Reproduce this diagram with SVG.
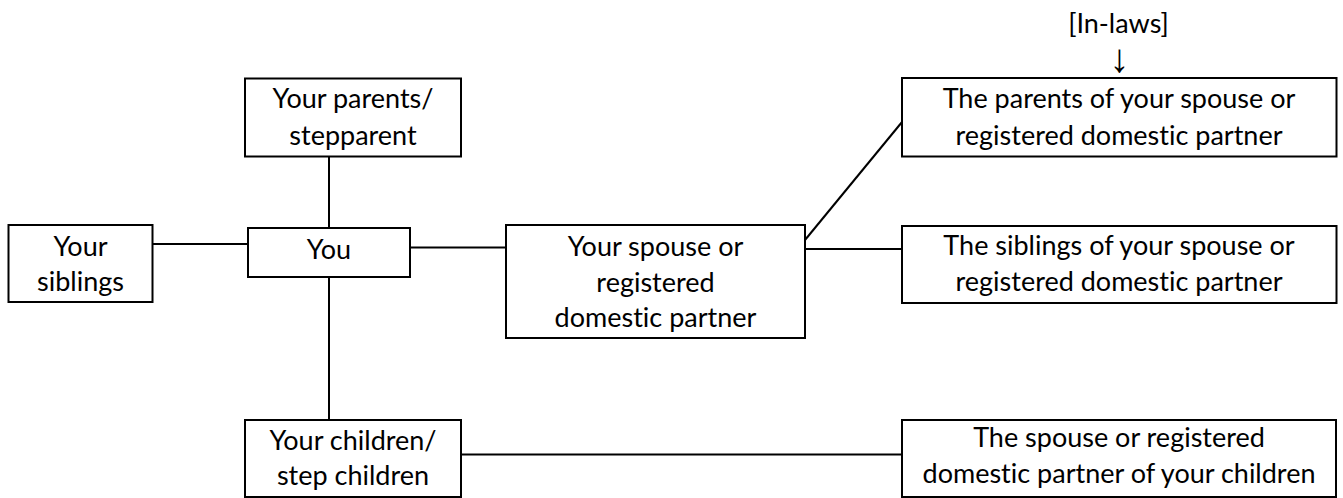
<svg xmlns="http://www.w3.org/2000/svg" width="1343" height="498" viewBox="0 0 1343 498">
<style>
.box{fill:#fff;stroke:#000;stroke-width:2}
.lbl{font-family:Lato,"Open Sans","Liberation Sans",sans-serif;font-size:27px;fill:#000;text-anchor:middle;font-variant-ligatures:none}
.arrow{font-family:"Liberation Sans","Noto Sans",sans-serif;font-size:40px;fill:#000;text-anchor:middle}
.con{stroke:#000;stroke-width:2;fill:none}
</style>
<rect width="1343" height="498" fill="#fff"/>
<g id="connectors">
<line class="con" x1="329" y1="157" x2="329" y2="228"/>
<line class="con" x1="152" y1="244" x2="248" y2="244"/>
<line class="con" x1="410" y1="247.5" x2="506" y2="247.5"/>
<line class="con" x1="329" y1="277" x2="329" y2="420"/>
<line class="con" x1="805" y1="240" x2="902" y2="122"/>
<line class="con" x1="805" y1="249" x2="902" y2="249"/>
<line class="con" x1="461" y1="454.5" x2="902" y2="454.5"/>
</g>
<g id="note-inlaws">
<text class="lbl" x="1118.5" y="33">[In-laws]</text>
<text class="arrow" x="1119.5" y="72">↓</text>
</g>
<g id="node-parents">
<rect class="box" x="245" y="78.5" width="216" height="78"/>
<text class="lbl" x="353" y="108">Your parents/</text>
<text class="lbl" x="353" y="145">stepparent</text>
</g>
<g id="node-siblings">
<rect class="box" x="8.5" y="225" width="144" height="77"/>
<text class="lbl" x="80.5" y="256">Your</text>
<text class="lbl" x="80.5" y="291">siblings</text>
</g>
<g id="node-you">
<rect class="box" x="248" y="228" width="162" height="49"/>
<text class="lbl" x="329" y="259">You</text>
</g>
<g id="node-spouse">
<rect class="box" x="506" y="225" width="299" height="113"/>
<text class="lbl" x="655.5" y="256">Your spouse or</text>
<text class="lbl" x="655.5" y="291.5">registered</text>
<text class="lbl" x="655.5" y="327">domestic partner</text>
</g>
<g id="node-parents-inlaw">
<rect class="box" x="902" y="78" width="434.5" height="78.5"/>
<text class="lbl" x="1119" y="108">The parents of your spouse or</text>
<text class="lbl" x="1119" y="145">registered domestic partner</text>
</g>
<g id="node-siblings-inlaw">
<rect class="box" x="902" y="226" width="434.5" height="77"/>
<text class="lbl" x="1119" y="255">The siblings of your spouse or</text>
<text class="lbl" x="1119" y="291">registered domestic partner</text>
</g>
<g id="node-children">
<rect class="box" x="245" y="420" width="216" height="77"/>
<text class="lbl" x="353" y="450">Your children/</text>
<text class="lbl" x="353" y="485">step children</text>
</g>
<g id="node-children-spouse">
<rect class="box" x="902" y="420" width="434" height="77"/>
<text class="lbl" x="1119" y="447">The spouse or registered</text>
<text class="lbl" x="1119" y="483">domestic partner of your children</text>
</g>
</svg>
